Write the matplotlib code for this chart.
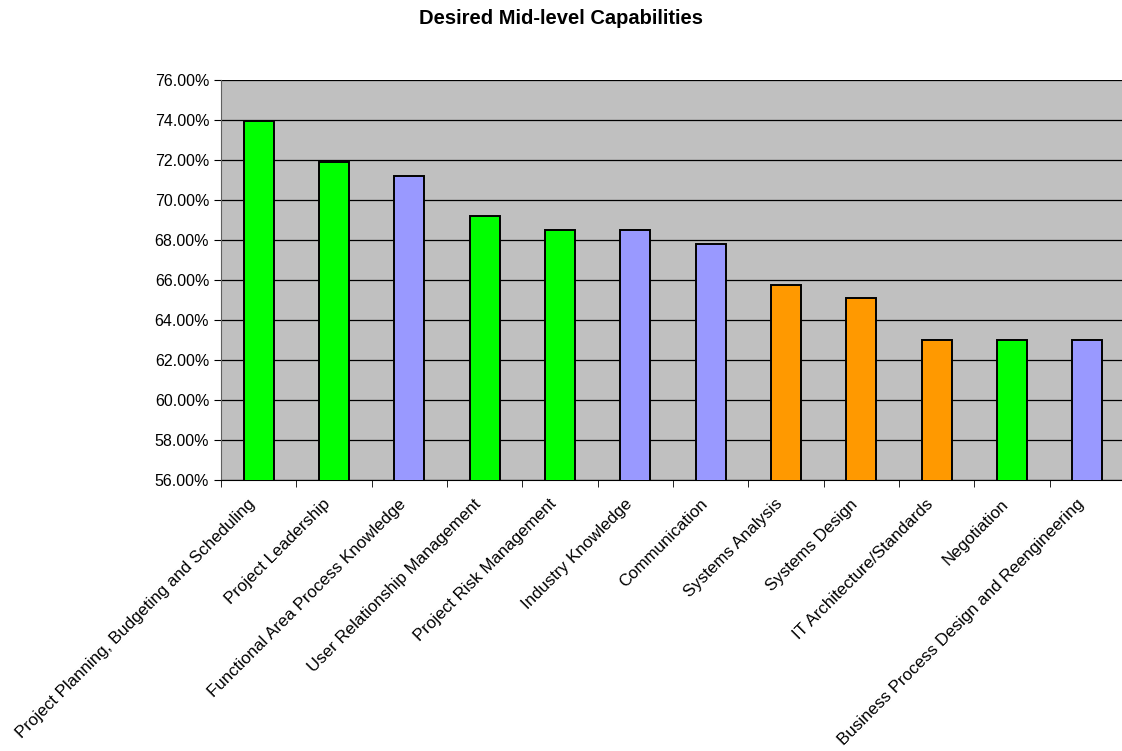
import numpy as np
import matplotlib
matplotlib.use("Agg")
import matplotlib.pyplot as plt
import matplotlib.transforms as mtransforms
from matplotlib.ticker import FuncFormatter, MultipleLocator

plt.rcParams['font.family'] = ['Liberation Sans', 'DejaVu Sans']

# capability names and share of respondents (%)
capabilities = [
    "Project Planning, Budgeting and Scheduling",
    "Project Leadership",
    "Functional Area Process Knowledge",
    "User Relationship Management",
    "Project Risk Management",
    "Industry Knowledge",
    "Communication",
    "Systems Analysis",
    "Systems Design",
    "IT Architecture/Standards",
    "Negotiation",
    "Business Process Design and Reengineering",
]
values = [73.95, 71.9, 71.2, 69.2, 68.5, 68.5, 67.8, 65.77, 65.08, 63.0, 63.0, 63.0]
groups = ["pm", "pm", "biz", "pm", "pm", "biz", "biz", "tech", "tech", "tech", "pm", "biz"]

group_colors = {"pm": "#00FF00", "biz": "#9999FF", "tech": "#FF9900"}

fig = plt.figure(figsize=(11.22, 7.51), dpi=100)
ax = fig.add_axes([221 / 1122, 1 - 480 / 751, (1125 - 221) / 1122, 400 / 751])
ax.set_facecolor("#C0C0C0")

x = np.arange(len(capabilities))
colors = [group_colors[g] for g in groups]
ax.bar(x, values, width=0.4, color=colors, edgecolor="black", linewidth=1.4, zorder=3)

ax.set_ylim(56, 76)
ax.set_xlim(-0.5, len(capabilities) - 0.5)
ax.yaxis.set_major_locator(MultipleLocator(2))
ax.yaxis.set_major_formatter(FuncFormatter(lambda v, p: f"{v:.2f}%"))
ax.grid(axis="y", color="black", linewidth=0.9, zorder=1)

ax.set_xticks(x)
ax.set_xticklabels(capabilities, rotation=45, ha="right", rotation_mode="anchor", fontsize=12.2)
ax.tick_params(axis="x", which="major", length=0, pad=14)
# nudge labels a little left/up to sit like the original
shift = mtransforms.ScaledTranslation(-11 / 100, 3 / 100, fig.dpi_scale_trans)
for lab in ax.get_xticklabels():
    lab.set_transform(lab.get_transform() + shift)
ax.set_xticks(np.arange(len(capabilities) + 1) - 0.5, minor=True)
ax.tick_params(axis="x", which="minor", length=5, direction="out", color="black")
ax.tick_params(axis="y", labelsize=11.5, length=5, direction="out")

for side in ["top", "right"]:
    ax.spines[side].set_visible(False)
ax.spines["left"].set_color("#606060")
ax.spines["bottom"].set_color("black")

fig.text(0.5, 1 - 18 / 751, "Desired Mid-level Capabilities", ha="center", va="center",
         fontsize=14.5, fontweight="bold")

fig.savefig("out.png", dpi=100)
